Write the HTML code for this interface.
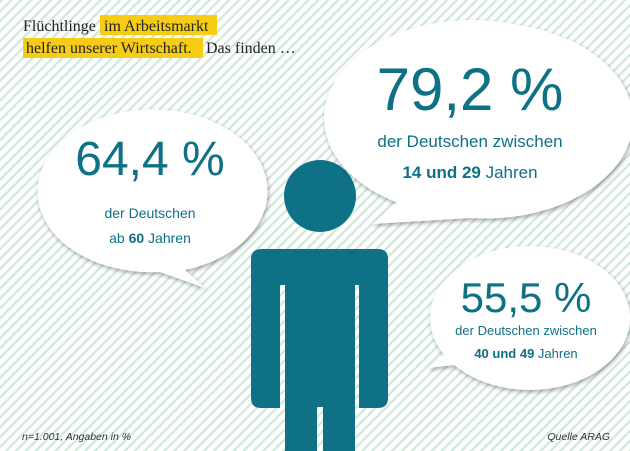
<!DOCTYPE html>
<html><head><meta charset="utf-8"><style>
html,body{margin:0;padding:0;width:630px;height:451px;overflow:hidden;background:#fff}
svg{display:block}
text{font-family:"Liberation Sans",sans-serif}
text.serif{font-family:"Liberation Serif",serif}
</style></head><body>
<svg width="630" height="451" viewBox="0 0 630 451">
<defs>
<pattern id="st" width="7" height="7" patternUnits="userSpaceOnUse" patternTransform="rotate(-45)">
<rect width="7" height="7" fill="#fff"/><rect width="7" height="2.2" fill="#cfe8da"/>
</pattern>
<filter id="sh" x="-20%" y="-20%" width="140%" height="140%"><feDropShadow dx="1" dy="2" stdDeviation="2" flood-color="#000" flood-opacity="0.35"/></filter>
</defs>
<rect width="630" height="451" fill="url(#st)"/>
<g font-size="16" fill="#222">
<rect x="100" y="15" width="117" height="20" fill="#f7cc15"/>
<rect x="23" y="38" width="180" height="20" fill="#f7cc15"/>
<text class="serif" x="23" y="31">Flüchtlinge <tspan x="104">im Arbeitsmarkt</tspan></text>
<text class="serif" x="26" y="53">helfen unserer Wirtschaft. <tspan x="206">Das finden …</tspan></text>
</g>
<g fill="#0e7185">
<circle cx="320" cy="196" r="36"/>
<path d="M262,249 H378 Q388,249 388,259 V398 Q388,408 378,408 H359 V285 H355 V451 H323 V407 H317 V451 H285 V285 H280 V408 H261 Q251,408 251,398 V259 Q251,249 262,249 Z"/>
</g>
<g filter="url(#sh)">
<path d="M60,240 A115,82 0 1 1 185,270 L205,288 L160,272 A115,82 0 0 1 60,240 Z" fill="#fff"/>
</g>
<text x="150" y="175" text-anchor="middle" font-size="48" fill="#0e7185">64,4 %</text>
<text x="150" y="218" text-anchor="middle" font-size="14" fill="#0e7185">der Deutschen</text>
<text x="150" y="243" text-anchor="middle" font-size="14" fill="#0e7185">ab <tspan font-weight="bold">60</tspan> Jahren</text>
<g filter="url(#sh)">
<path d="M410,205 A148,98 0 1 1 470,218 L372,224 L400,200 Z" fill="#fff"/>
<ellipse cx="472" cy="118" rx="148" ry="98" fill="#fff"/>
</g>
<text x="470" y="110" text-anchor="middle" font-size="60" fill="#0e7185">79,2 %</text>
<text x="470" y="147" text-anchor="middle" font-size="17" fill="#0e7185">der Deutschen zwischen</text>
<text x="470" y="178" text-anchor="middle" font-size="17" fill="#0e7185"><tspan font-weight="bold">14 und 29</tspan> Jahren</text>
<g filter="url(#sh)">
<path d="M455,345 L428,368 L480,362 Z" fill="#fff"/>
<ellipse cx="530" cy="318" rx="100" ry="72" fill="#fff"/>
</g>
<text x="526" y="312" text-anchor="middle" font-size="42" fill="#0e7185">55,5 %</text>
<text x="526" y="335" text-anchor="middle" font-size="13" fill="#0e7185">der Deutschen zwischen</text>
<text x="526" y="358" text-anchor="middle" font-size="13" fill="#0e7185"><tspan font-weight="bold">40 und 49</tspan> Jahren</text>
<text x="22" y="440" font-size="10.5" font-style="italic" fill="#333">n=1.001, Angaben in %</text>
<text x="610" y="440" text-anchor="end" font-size="10.5" font-style="italic" fill="#333">Quelle ARAG</text>
</svg>
</body></html>
